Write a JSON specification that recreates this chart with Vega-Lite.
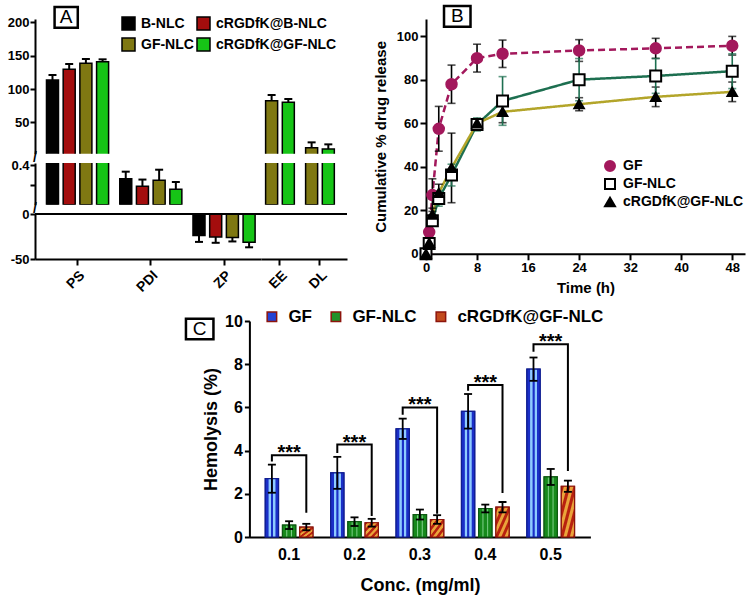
{
  "$schema": "https://vega.github.io/schema/vega-lite/v6.json",
  "padding": {"left": 7, "top": 0, "right": 5, "bottom": 5},
  "background": "white",
  "datasets": {
    "a": [
      {"p": "PS", "s": "B-NLC", "v": 113.5, "eb": 121},
      {"p": "PS", "s": "cRGDfK@B-NLC", "v": 129.5, "eb": 137.5},
      {"p": "PS", "s": "GF-NLC", "v": 138.5, "eb": 145},
      {"p": "PS", "s": "cRGDfK@GF-NLC", "v": 141, "eb": 144.5},
      {"p": "PDI", "s": "B-NLC", "v": 0.264, "eb": 0.335},
      {"p": "PDI", "s": "cRGDfK@B-NLC", "v": 0.187, "eb": 0.255},
      {"p": "PDI", "s": "GF-NLC", "v": 0.248, "eb": 0.355},
      {"p": "PDI", "s": "cRGDfK@GF-NLC", "v": 0.156, "eb": 0.23},
      {"p": "ZP", "s": "B-NLC", "v": -24, "eb": -31},
      {"p": "ZP", "s": "cRGDfK@B-NLC", "v": -25.5, "eb": -32},
      {"p": "ZP", "s": "GF-NLC", "v": -26, "eb": -30.5},
      {"p": "ZP", "s": "cRGDfK@GF-NLC", "v": -31.5, "eb": -37},
      {"p": "EE", "s": "GF-NLC", "v": 82.5, "eb": 91},
      {"p": "EE", "s": "cRGDfK@GF-NLC", "v": 80, "eb": 85},
      {"p": "DL", "s": "GF-NLC", "v": 12, "eb": 20},
      {"p": "DL", "s": "cRGDfK@GF-NLC", "v": 10, "eb": 17}
    ],
    "b": [
      {"s": "GF", "t": 0, "v": 0, "e": 0},
      {"s": "GF", "t": 0.5, "v": 10, "e": 2},
      {"s": "GF", "t": 1, "v": 27, "e": 7.5},
      {"s": "GF", "t": 2, "v": 57.5, "e": 10.3},
      {"s": "GF", "t": 4, "v": 78, "e": 8.8},
      {"s": "GF", "t": 8, "v": 90, "e": 6.4},
      {"s": "GF", "t": 12, "v": 92, "e": 6.3},
      {"s": "GF", "t": 24, "v": 93.5, "e": 5},
      {"s": "GF", "t": 36, "v": 94.5, "e": 4.6},
      {"s": "GF", "t": 48, "v": 95.7, "e": 4.3},
      {"s": "GF-NLC", "t": 0, "v": 0, "e": 0},
      {"s": "GF-NLC", "t": 0.5, "v": 4.7, "e": 1.5},
      {"s": "GF-NLC", "t": 1, "v": 15.2, "e": 2.5},
      {"s": "GF-NLC", "t": 2, "v": 25.4, "e": 3.5},
      {"s": "GF-NLC", "t": 4, "v": 36.2, "e": 5},
      {"s": "GF-NLC", "t": 8, "v": 59.5, "e": 3},
      {"s": "GF-NLC", "t": 12, "v": 70.3, "e": 11.2},
      {"s": "GF-NLC", "t": 24, "v": 80.1, "e": 9.7},
      {"s": "GF-NLC", "t": 36, "v": 81.8, "e": 8},
      {"s": "GF-NLC", "t": 48, "v": 84, "e": 8},
      {"s": "cRGDfK@GF-NLC", "t": 0, "v": 0, "e": 0},
      {"s": "cRGDfK@GF-NLC", "t": 0.5, "v": 5, "e": 1.5},
      {"s": "cRGDfK@GF-NLC", "t": 1, "v": 18, "e": 3},
      {"s": "cRGDfK@GF-NLC", "t": 2, "v": 28, "e": 4},
      {"s": "cRGDfK@GF-NLC", "t": 4, "v": 39.5, "e": 16},
      {"s": "cRGDfK@GF-NLC", "t": 8, "v": 60, "e": 2},
      {"s": "cRGDfK@GF-NLC", "t": 12, "v": 65.3, "e": 5},
      {"s": "cRGDfK@GF-NLC", "t": 24, "v": 68.8, "e": 3},
      {"s": "cRGDfK@GF-NLC", "t": 36, "v": 72.2, "e": 4.5},
      {"s": "cRGDfK@GF-NLC", "t": 48, "v": 74.5, "e": 4.5}
    ],
    "c": [
      {"c": "0.1", "s": "GF", "v": 2.7, "lo": 2.05, "hi": 3.35},
      {"c": "0.2", "s": "GF", "v": 2.97, "lo": 2.23, "hi": 3.71},
      {"c": "0.3", "s": "GF", "v": 5.01, "lo": 4.54, "hi": 5.48},
      {"c": "0.4", "s": "GF", "v": 5.82, "lo": 5.02, "hi": 6.62},
      {"c": "0.5", "s": "GF", "v": 7.77, "lo": 7.23, "hi": 8.31},
      {"c": "0.1", "s": "GF-NLC", "v": 0.55, "lo": 0.37, "hi": 0.73},
      {"c": "0.2", "s": "GF-NLC", "v": 0.71, "lo": 0.51, "hi": 0.91},
      {"c": "0.3", "s": "GF-NLC", "v": 1.04, "lo": 0.81, "hi": 1.27},
      {"c": "0.4", "s": "GF-NLC", "v": 1.32, "lo": 1.14, "hi": 1.5},
      {"c": "0.5", "s": "GF-NLC", "v": 2.78, "lo": 2.41, "hi": 3.15},
      {"c": "0.1", "s": "cRGDfK@GF-NLC", "v": 0.46, "lo": 0.31, "hi": 0.61},
      {"c": "0.2", "s": "cRGDfK@GF-NLC", "v": 0.66, "lo": 0.48, "hi": 0.84},
      {"c": "0.3", "s": "cRGDfK@GF-NLC", "v": 0.81, "lo": 0.61, "hi": 1.01},
      {"c": "0.4", "s": "cRGDfK@GF-NLC", "v": 1.38, "lo": 1.14, "hi": 1.62},
      {"c": "0.5", "s": "cRGDfK@GF-NLC", "v": 2.35, "lo": 2.09, "hi": 2.61}
    ],
    "br": [
      {"c": "0.1", "s": "GF", "h": 3.5, "o": 1},
      {"c": "0.1", "s": "GF", "h": 3.78, "o": 2},
      {"c": "0.1", "s": "cRGDfK@GF-NLC", "h": 3.78, "o": 3},
      {"c": "0.1", "s": "cRGDfK@GF-NLC", "h": 1.12, "o": 4},
      {"c": "0.2", "s": "GF", "h": 3.89, "o": 1},
      {"c": "0.2", "s": "GF", "h": 4.28, "o": 2},
      {"c": "0.2", "s": "cRGDfK@GF-NLC", "h": 4.28, "o": 3},
      {"c": "0.2", "s": "cRGDfK@GF-NLC", "h": 0.97, "o": 4},
      {"c": "0.3", "s": "GF", "h": 5.66, "o": 1},
      {"c": "0.3", "s": "GF", "h": 6.0, "o": 2},
      {"c": "0.3", "s": "cRGDfK@GF-NLC", "h": 6.0, "o": 3},
      {"c": "0.3", "s": "cRGDfK@GF-NLC", "h": 1.08, "o": 4},
      {"c": "0.4", "s": "GF", "h": 6.77, "o": 1},
      {"c": "0.4", "s": "GF", "h": 7.04, "o": 2},
      {"c": "0.4", "s": "cRGDfK@GF-NLC", "h": 7.04, "o": 3},
      {"c": "0.4", "s": "cRGDfK@GF-NLC", "h": 2.04, "o": 4},
      {"c": "0.5", "s": "GF", "h": 8.58, "o": 1},
      {"c": "0.5", "s": "GF", "h": 8.92, "o": 2},
      {"c": "0.5", "s": "cRGDfK@GF-NLC", "h": 8.92, "o": 3},
      {"c": "0.5", "s": "cRGDfK@GF-NLC", "h": 3.05, "o": 4}
    ],
    "st": [
      {"c": "0.1", "s": "GF-NLC", "h": 3.78},
      {"c": "0.2", "s": "GF-NLC", "h": 4.28},
      {"c": "0.3", "s": "GF-NLC", "h": 6.0},
      {"c": "0.4", "s": "GF-NLC", "h": 7.04},
      {"c": "0.5", "s": "GF-NLC", "h": 8.92}
    ]
  },
  "vconcat": [
    {
      "hconcat": [
        {
          "concat": [
            {
              "width": 226, "height": 134.7,
              "layer": [
                {
                  "data": {"name": "a"}, "transform": [{"filter": "datum.p === 'PS'"}],
                  "mark": {"type": "bar", "clip": true, "stroke": "black", "strokeWidth": 1.5},
                  "encoding": {
                    "x": {"field": "p", "type": "nominal", "scale": {"domain": ["PS", "PDI", "ZP"], "paddingInner": 0.088, "paddingOuter": 0.0866, "align": 0.72}, "axis": null},
                    "xOffset": {"field": "s", "type": "nominal", "scale": {"domain": ["B-NLC", "cRGDfK@B-NLC", "GF-NLC", "cRGDfK@GF-NLC"], "paddingInner": 0.28, "paddingOuter": 0.14}},
                    "y": {"field": "v", "type": "quantitative", "scale": {"domain": [3, 205], "nice": false, "zero": false}, "axis": {"values": [50, 100, 150, 200], "labelOverlap": false, "title": null, "labelFontSize": 13, "tickSize": 5, "labelPadding": 1}},
                    "y2": {"datum": 0},
                    "color": {"field": "s", "type": "nominal", "scale": {"domain": ["B-NLC", "GF-NLC", "cRGDfK@B-NLC", "cRGDfK@GF-NLC"], "range": ["#000000", "#7f7812", "#a30d0d", "#16c416"]},
                      "legend": {"title": null, "orient": "none", "legendX": 86, "legendY": -3, "columns": 2, "symbolType": "square", "symbolSize": 169, "symbolStrokeColor": "black", "symbolStrokeWidth": 1.5, "labelFontSize": 14, "columnPadding": 0, "rowPadding": 2, "labelOffset": 5}}
                  }
                },
                {
                  "data": {"name": "a"}, "transform": [{"filter": "datum.p === 'PS'"}],
                  "mark": {"type": "rule", "strokeWidth": 2, "color": "black"},
                  "encoding": {"x": {"field": "p", "type": "nominal"}, "xOffset": {"field": "s", "type": "nominal"}, "y": {"field": "v", "type": "quantitative"}, "y2": {"field": "eb"}}
                },
                {
                  "data": {"name": "a"}, "transform": [{"filter": "datum.p === 'PS'"}],
                  "mark": {"type": "tick", "orient": "horizontal", "thickness": 2, "size": 8, "color": "black", "opacity": 1},
                  "encoding": {"x": {"field": "p", "type": "nominal"}, "xOffset": {"field": "s", "type": "nominal"}, "y": {"field": "eb", "type": "quantitative"}}
                },
                {
                  "data": {"values": [{}]},
                  "mark": {"type": "point", "shape": "M-1,-0.9H1V0.9H-1Z", "size": 538, "filled": false, "stroke": "black", "strokeWidth": 2.5, "opacity": 1},
                  "encoding": {"x": {"datum": "PS", "type": "nominal", "bandPosition": 0.33}, "y": {"datum": 207.5, "type": "quantitative"}}
                },
                {
                  "data": {"values": [{}]},
                  "mark": {"type": "text", "text": "A", "fontSize": 19, "color": "black", "baseline": "middle", "align": "center"},
                  "encoding": {"x": {"datum": "PS", "type": "nominal", "bandPosition": 0.33}, "y": {"datum": 207.5, "type": "quantitative"}}
                }
              ]
            },
            {
              "width": 86, "height": 134.7,
              "data": {"name": "a"}, "transform": [{"filter": "datum.p === 'EE' || datum.p === 'DL'"}],
              "layer": [
                {
                  "mark": {"type": "bar", "clip": true, "stroke": "black", "strokeWidth": 1.5},
                  "encoding": {
                    "x": {"field": "p", "type": "nominal", "scale": {"domain": ["EE", "DL"], "paddingInner": 0.165, "paddingOuter": 0.1575, "align": 0.18}, "axis": null},
                    "xOffset": {"field": "s", "type": "nominal", "scale": {"domain": ["GF-NLC", "cRGDfK@GF-NLC"], "paddingInner": 0.28, "paddingOuter": 0.14}},
                    "y": {"field": "v", "type": "quantitative", "scale": {"domain": [3, 205], "nice": false, "zero": false}, "axis": null},
                    "y2": {"datum": 0},
                    "color": {"field": "s", "type": "nominal", "scale": {"domain": ["B-NLC", "GF-NLC", "cRGDfK@B-NLC", "cRGDfK@GF-NLC"], "range": ["#000000", "#7f7812", "#a30d0d", "#16c416"]}, "legend": null}
                  }
                },
                {
                  "mark": {"type": "rule", "strokeWidth": 2, "color": "black"},
                  "encoding": {"x": {"field": "p", "type": "nominal"}, "xOffset": {"field": "s", "type": "nominal"}, "y": {"field": "v", "type": "quantitative"}, "y2": {"field": "eb"}}
                },
                {
                  "mark": {"type": "tick", "orient": "horizontal", "thickness": 2, "size": 8, "color": "black", "opacity": 1},
                  "encoding": {"x": {"field": "p", "type": "nominal"}, "xOffset": {"field": "s", "type": "nominal"}, "y": {"field": "eb", "type": "quantitative"}}
                }
              ]
            },
            {
              "width": 226, "height": 41.7,
              "layer": [
                {
                  "data": {"name": "a"}, "transform": [{"filter": "datum.p === 'PS' || datum.p === 'PDI'"}],
                  "mark": {"type": "bar", "clip": true, "stroke": "black", "strokeWidth": 1.5},
                  "encoding": {
                    "x": {"field": "p", "type": "nominal", "scale": {"domain": ["PS", "PDI", "ZP"], "paddingInner": 0.088, "paddingOuter": 0.0866, "align": 0.72}, "axis": null},
                    "xOffset": {"field": "s", "type": "nominal", "scale": {"domain": ["B-NLC", "cRGDfK@B-NLC", "GF-NLC", "cRGDfK@GF-NLC"], "paddingInner": 0.28, "paddingOuter": 0.14}},
                    "y": {"field": "v", "type": "quantitative", "scale": {"domain": [0, 0.423], "nice": false, "zero": false}, "axis": {"values": [0.2, 0.4], "labelExpr": "datum.value > 0.3 ? datum.label : ''", "labelOverlap": false, "title": null, "labelFontSize": 13, "tickSize": 5, "labelPadding": 1}},
                    "y2": {"datum": 0},
                    "color": {"field": "s", "type": "nominal", "scale": {"domain": ["B-NLC", "GF-NLC", "cRGDfK@B-NLC", "cRGDfK@GF-NLC"], "range": ["#000000", "#7f7812", "#a30d0d", "#16c416"]}, "legend": null}
                  }
                },
                {
                  "data": {"name": "a"}, "transform": [{"filter": "datum.p === 'PDI'"}],
                  "mark": {"type": "rule", "strokeWidth": 2, "color": "black"},
                  "encoding": {"x": {"field": "p", "type": "nominal"}, "xOffset": {"field": "s", "type": "nominal"}, "y": {"field": "v", "type": "quantitative"}, "y2": {"field": "eb"}}
                },
                {
                  "data": {"name": "a"}, "transform": [{"filter": "datum.p === 'PDI'"}],
                  "mark": {"type": "tick", "orient": "horizontal", "thickness": 2, "size": 8, "color": "black", "opacity": 1},
                  "encoding": {"x": {"field": "p", "type": "nominal"}, "xOffset": {"field": "s", "type": "nominal"}, "y": {"field": "eb", "type": "quantitative"}}
                },
                {
                  "data": {"values": [{}]},
                  "mark": {"type": "text", "text": "/", "fontSize": 14, "fontWeight": "bold", "color": "black", "baseline": "middle", "align": "center"},
                  "encoding": {"x": {"datum": "PS", "type": "nominal", "bandPosition": -0.136}, "y": {"datum": 0.469, "type": "quantitative"}}
                },
                {
                  "data": {"values": [{}]},
                  "mark": {"type": "text", "text": "/", "fontSize": 14, "fontWeight": "bold", "color": "black", "baseline": "middle", "align": "center"},
                  "encoding": {"x": {"datum": "PS", "type": "nominal", "bandPosition": -0.136}, "y": {"datum": -0.046, "type": "quantitative"}}
                }
              ]
            },
            {
              "width": 86, "height": 41.7,
              "data": {"name": "a"}, "transform": [{"filter": "datum.p === 'EE' || datum.p === 'DL'"}],
              "mark": {"type": "bar", "clip": true, "stroke": "black", "strokeWidth": 1.5},
              "encoding": {
                "x": {"field": "p", "type": "nominal", "scale": {"domain": ["EE", "DL"], "paddingInner": 0.165, "paddingOuter": 0.1575, "align": 0.18}, "axis": null},
                "xOffset": {"field": "s", "type": "nominal", "scale": {"domain": ["GF-NLC", "cRGDfK@GF-NLC"], "paddingInner": 0.28, "paddingOuter": 0.14}},
                "y": {"field": "v", "type": "quantitative", "scale": {"domain": [0, 0.423], "nice": false, "zero": false}, "axis": null},
                "y2": {"datum": 0},
                "color": {"field": "s", "type": "nominal", "scale": {"domain": ["B-NLC", "GF-NLC", "cRGDfK@B-NLC", "cRGDfK@GF-NLC"], "range": ["#000000", "#7f7812", "#a30d0d", "#16c416"]}, "legend": null}
              }
            },
            {
              "width": 226, "height": 45,
              "layer": [
                {
                  "data": {"name": "a"}, "transform": [{"filter": "datum.p === 'ZP'"}],
                  "mark": {"type": "bar", "clip": true, "stroke": "black", "strokeWidth": 1.5},
                  "encoding": {
                    "x": {"field": "p", "type": "nominal", "scale": {"domain": ["PS", "PDI", "ZP"], "paddingInner": 0.088, "paddingOuter": 0.0866, "align": 0.72}, "axis": {"title": null, "labelAngle": -45, "labelFontSize": 14, "tickSize": 6, "labelPadding": 3}},
                    "xOffset": {"field": "s", "type": "nominal", "scale": {"domain": ["B-NLC", "cRGDfK@B-NLC", "GF-NLC", "cRGDfK@GF-NLC"], "paddingInner": 0.28, "paddingOuter": 0.14}},
                    "y": {"field": "v", "type": "quantitative", "scale": {"domain": [-50, 0], "nice": false}, "axis": {"values": [-50, -25, 0], "labelExpr": "datum.value == -25 ? '' : (datum.value == -50 ? '-50' : '0')", "labelOverlap": false, "title": null, "labelFontSize": 13, "tickSize": 5, "labelPadding": 1}},
                    "y2": {"datum": 0},
                    "color": {"field": "s", "type": "nominal", "scale": {"domain": ["B-NLC", "GF-NLC", "cRGDfK@B-NLC", "cRGDfK@GF-NLC"], "range": ["#000000", "#7f7812", "#a30d0d", "#16c416"]}, "legend": null}
                  }
                },
                {
                  "data": {"name": "a"}, "transform": [{"filter": "datum.p === 'ZP'"}],
                  "mark": {"type": "rule", "strokeWidth": 2, "color": "black"},
                  "encoding": {"x": {"field": "p", "type": "nominal"}, "xOffset": {"field": "s", "type": "nominal"}, "y": {"field": "v", "type": "quantitative"}, "y2": {"field": "eb"}}
                },
                {
                  "data": {"name": "a"}, "transform": [{"filter": "datum.p === 'ZP'"}],
                  "mark": {"type": "tick", "orient": "horizontal", "thickness": 2, "size": 8, "color": "black", "opacity": 1},
                  "encoding": {"x": {"field": "p", "type": "nominal"}, "xOffset": {"field": "s", "type": "nominal"}, "y": {"field": "eb", "type": "quantitative"}}
                },
                {
                  "data": {"values": [{}]},
                  "mark": {"type": "rule", "strokeWidth": 2, "color": "black"},
                  "encoding": {"y": {"datum": 0, "type": "quantitative"}}
                }
              ]
            },
            {
              "width": 86, "height": 45,
              "layer": [
                {
                  "data": {"name": "a"}, "transform": [{"filter": "datum.p === 'EE' || datum.p === 'DL'"}],
                  "mark": {"type": "bar", "clip": true, "stroke": "black", "strokeWidth": 1.5},
                  "encoding": {
                    "x": {"field": "p", "type": "nominal", "scale": {"domain": ["EE", "DL"], "paddingInner": 0.165, "paddingOuter": 0.1575, "align": 0.18}, "axis": {"title": null, "labelAngle": -45, "labelFontSize": 14, "tickSize": 6, "labelPadding": 3}},
                    "xOffset": {"field": "s", "type": "nominal", "scale": {"domain": ["GF-NLC", "cRGDfK@GF-NLC"], "paddingInner": 0.28, "paddingOuter": 0.14}},
                    "y": {"field": "v", "type": "quantitative", "scale": {"domain": [-50, 0], "nice": false}, "axis": null},
                    "y2": {"datum": 0},
                    "color": {"field": "s", "type": "nominal", "scale": {"domain": ["B-NLC", "GF-NLC", "cRGDfK@B-NLC", "cRGDfK@GF-NLC"], "range": ["#000000", "#7f7812", "#a30d0d", "#16c416"]}, "legend": null}
                  }
                },
                {
                  "data": {"values": [{}]},
                  "mark": {"type": "rule", "strokeWidth": 2, "color": "black"},
                  "encoding": {"y": {"datum": 0, "type": "quantitative"}}
                }
              ]
            }
          ],
          "columns": 2,
          "spacing": {"row": 9, "column": 0},
          "bounds": "flush",
          "resolve": {"scale": {"x": "independent", "y": "independent", "color": "independent", "xOffset": "independent"}, "legend": {"color": "independent"}}
        },
        {
          "width": 319, "height": 234.8,
          "layer": [
            {
              "data": {"name": "b"},
              "mark": {"type": "line", "strokeWidth": 2.5},
              "encoding": {
                "x": {"field": "t", "type": "quantitative", "scale": {"domain": [0, 50], "nice": false, "zero": false}, "title": "Time (h)",
                  "axis": {"values": [0, 4, 8, 12, 16, 20, 24, 28, 32, 36, 40, 44, 48], "labelExpr": "datum.value % 8 == 0 ? datum.label : ''", "labelOverlap": false, "tickSize": {"condition": {"test": "datum.value % 8 == 0", "value": 6}, "value": 4}, "titleFontSize": 15, "labelFontSize": 13, "titlePadding": 6, "labelPadding": 2}},
                "y": {"field": "v", "type": "quantitative", "scale": {"domain": [0, 108], "nice": false}, "title": "Cumulative % drug release",
                  "axis": {"values": [0, 10, 20, 30, 40, 50, 60, 70, 80, 90, 100], "labelExpr": "datum.value % 20 == 0 ? datum.label : ''", "labelOverlap": false, "tickSize": {"condition": {"test": "datum.value % 20 == 0", "value": 6}, "value": 4}, "titleFontSize": 15, "labelFontSize": 13, "titlePadding": 8, "labelPadding": 2}},
                "detail": {"field": "s", "type": "nominal"},
                "stroke": {"condition": [{"test": "datum.s === 'GF'", "value": "#a3185c"}, {"test": "datum.s === 'GF-NLC'", "value": "#1d6f50"}], "value": "#b3a52a"},
                "strokeDash": {"condition": {"test": "datum.s === 'GF'", "value": [7, 4]}, "value": [1, 0]}
              }
            },
            {
              "data": {"name": "b"}, "transform": [{"filter": "datum.s !== 'GF-NLC' && datum.e > 0"}],
              "mark": {"type": "errorbar", "ticks": {"size": 8, "thickness": 1.6}, "thickness": 1.6, "color": "black"},
              "encoding": {"x": {"field": "t", "type": "quantitative", "title": "Time (h)"}, "y": {"field": "v", "type": "quantitative", "title": "Cumulative % drug release"}, "yError": {"field": "e"}}
            },
            {
              "data": {"name": "b"}, "transform": [{"filter": "datum.s === 'GF-NLC' && datum.e > 0"}],
              "mark": {"type": "errorbar", "ticks": {"size": 8, "thickness": 1.6}, "thickness": 1.6, "color": "#1d6f50"},
              "encoding": {"x": {"field": "t", "type": "quantitative", "title": "Time (h)"}, "y": {"field": "v", "type": "quantitative", "title": "Cumulative % drug release"}, "yError": {"field": "e"}}
            },
            {
              "data": {"name": "b"},
              "mark": {"type": "point", "filled": true, "opacity": 1, "strokeWidth": 2},
              "encoding": {
                "x": {"field": "t", "type": "quantitative", "title": "Time (h)"},
                "y": {"field": "v", "type": "quantitative", "title": "Cumulative % drug release"},
                "shape": {"field": "s", "type": "nominal", "scale": {"domain": ["GF", "GF-NLC", "cRGDfK@GF-NLC"], "range": ["circle", "square", "triangle-up"]},
                  "legend": {"title": null, "orient": "none", "legendX": 177, "legendY": 140, "labelFontSize": 14, "symbolSize": 100, "symbolStrokeWidth": 2, "rowPadding": 0, "labelOffset": 6}},
                "fill": {"field": "s", "type": "nominal", "scale": {"domain": ["GF", "GF-NLC", "cRGDfK@GF-NLC"], "range": ["#a3185c", "#ffffff", "#000000"]},
                  "legend": {"title": null, "orient": "none", "legendX": 177, "legendY": 140, "labelFontSize": 14, "symbolSize": 100, "symbolStrokeWidth": 2, "rowPadding": 0, "labelOffset": 6}},
                "stroke": {"field": "s", "type": "nominal", "scale": {"domain": ["GF", "GF-NLC", "cRGDfK@GF-NLC"], "range": ["#a3185c", "#000000", "#000000"]},
                  "legend": {"title": null, "orient": "none", "legendX": 177, "legendY": 140, "labelFontSize": 14, "symbolSize": 100, "symbolStrokeWidth": 2, "rowPadding": 0, "labelOffset": 6}},
                "size": {"condition": [{"test": "datum.s === 'GF'", "value": 110}, {"test": "datum.s === 'GF-NLC'", "value": 120}], "value": 90}
              }
            },
            {
              "data": {"values": [{}]},
              "mark": {"type": "point", "shape": "M-1,-0.785H1V0.785H-1Z", "size": 702, "filled": false, "stroke": "black", "strokeWidth": 2.5, "opacity": 1},
              "encoding": {"x": {"datum": 4.9, "type": "quantitative"}, "y": {"datum": 109.2, "type": "quantitative"}}
            },
            {
              "data": {"values": [{}]},
              "mark": {"type": "text", "text": "B", "fontSize": 19, "color": "black", "baseline": "middle", "align": "center"},
              "encoding": {"x": {"datum": 4.9, "type": "quantitative"}, "y": {"datum": 109.2, "type": "quantitative"}}
            }
          ]
        }
      ],
      "spacing": 25,
      "resolve": {"scale": {"x": "independent", "y": "independent", "color": "independent", "fill": "independent", "stroke": "independent", "shape": "independent", "xOffset": "independent"}, "legend": {"color": "independent", "fill": "independent", "stroke": "independent", "shape": "independent"}}
    },
    {
      "hconcat": [
        {"width": 115, "height": 10, "data": {"values": []}, "mark": "point", "encoding": {}},
        {
          "width": 30, "height": 16,
          "data": {"values": [{}]},
          "layer": [
            {"mark": {"type": "point", "shape": "M-1,-0.745H1V0.745H-1Z", "size": 756, "filled": false, "stroke": "black", "strokeWidth": 2.5, "opacity": 1}, "encoding": {}},
            {"mark": {"type": "text", "text": "C", "fontSize": 19, "color": "black", "baseline": "middle", "align": "center"}, "encoding": {}}
          ]
        },
        {
          "width": 341, "height": 216,
          "layer": [
            {
              "data": {"name": "c"},
              "mark": {"type": "bar", "strokeWidth": 1.2},
              "encoding": {
                "x": {"field": "c", "type": "nominal", "scale": {"domain": ["0.1", "0.2", "0.3", "0.4", "0.5"], "paddingInner": 0.25, "paddingOuter": 0.232},
                  "axis": {"title": "Conc. (mg/ml)", "titleFontSize": 18, "labelFontSize": 16, "labelAngle": 0, "ticks": false, "labelPadding": 9, "titlePadding": 14}},
                "xOffset": {"field": "s", "type": "nominal", "scale": {"domain": ["GF", "GF-NLC", "cRGDfK@GF-NLC"], "paddingInner": 0.23, "paddingOuter": 0.04}},
                "y": {"field": "v", "type": "quantitative", "scale": {"domain": [0, 10], "nice": false},
                  "axis": {"values": [0, 2, 4, 6, 8, 10], "labelOverlap": false, "title": "Hemolysis (%)", "titleFontSize": 18, "labelFontSize": 16, "tickSize": 5, "labelPadding": 2, "titlePadding": 4}},
                "color": {"field": "s", "type": "nominal", "scale": {"domain": ["GF", "GF-NLC", "cRGDfK@GF-NLC"], "range": ["#2442d4", "#22922a", "#c24a1c"]},
                  "legend": {"title": null, "orient": "none", "legendX": 14, "legendY": -13, "direction": "horizontal", "symbolType": "square", "symbolSize": 90, "labelFontSize": 17, "columnPadding": 15, "labelOffset": 8}},
                "stroke": {"condition": [{"test": "datum.s === 'GF'", "value": "#101e90"}, {"test": "datum.s === 'GF-NLC'", "value": "#0e5a12"}], "value": "#8c140c"}
              }
            },
            {
              "data": {"name": "c"}, "transform": [{"filter": "datum.s === 'GF'"}],
              "mark": {"type": "bar", "stroke": "#101e90", "strokeWidth": 1.2,
                "fill": {"gradient": "linear", "x1": 0, "y1": 0, "x2": 1, "y2": 0, "stops": [
                  {"offset": 0, "color": "#1a2fc8"}, {"offset": 0.22, "color": "#1a2fc8"}, {"offset": 0.28, "color": "#8ecbff"}, {"offset": 0.4, "color": "#8ecbff"},
                  {"offset": 0.46, "color": "#1a2fc8"}, {"offset": 0.56, "color": "#1a2fc8"}, {"offset": 0.62, "color": "#8ecbff"}, {"offset": 0.74, "color": "#8ecbff"},
                  {"offset": 0.8, "color": "#1a2fc8"}, {"offset": 1, "color": "#1a2fc8"}]}},
              "encoding": {"x": {"field": "c", "type": "nominal"}, "xOffset": {"field": "s", "type": "nominal"}, "y": {"field": "v", "type": "quantitative"}}
            },
            {
              "data": {"name": "c"}, "transform": [{"filter": "datum.s === 'GF-NLC'"}],
              "mark": {"type": "bar", "stroke": "#0e5a12", "strokeWidth": 1.2,
                "fill": {"gradient": "linear", "x1": 0, "y1": 0, "x2": 1, "y2": 0, "stops": [
                  {"offset": 0, "color": "#178a1c"}, {"offset": 0.25, "color": "#178a1c"}, {"offset": 0.32, "color": "#7fd08a"}, {"offset": 0.4, "color": "#178a1c"},
                  {"offset": 0.6, "color": "#178a1c"}, {"offset": 0.68, "color": "#7fd08a"}, {"offset": 0.75, "color": "#178a1c"}, {"offset": 1, "color": "#178a1c"}]}},
              "encoding": {"x": {"field": "c", "type": "nominal"}, "xOffset": {"field": "s", "type": "nominal"}, "y": {"field": "v", "type": "quantitative"}}
            },
            {
              "data": {"name": "c"}, "transform": [{"filter": "datum.s === 'cRGDfK@GF-NLC'"}],
              "mark": {"type": "bar", "stroke": "#8c140c", "strokeWidth": 1.2,
                "fill": {"gradient": "linear", "x1": 0, "y1": 0, "x2": 1, "y2": 1, "stops": [
                  {"offset": 0, "color": "#b8220f"}, {"offset": 0.08, "color": "#b8220f"}, {"offset": 0.12, "color": "#eaa43a"}, {"offset": 0.2, "color": "#eaa43a"},
                  {"offset": 0.24, "color": "#b8220f"}, {"offset": 0.32, "color": "#b8220f"}, {"offset": 0.36, "color": "#eaa43a"}, {"offset": 0.44, "color": "#eaa43a"},
                  {"offset": 0.48, "color": "#b8220f"}, {"offset": 0.56, "color": "#b8220f"}, {"offset": 0.6, "color": "#eaa43a"}, {"offset": 0.68, "color": "#eaa43a"},
                  {"offset": 0.72, "color": "#b8220f"}, {"offset": 0.8, "color": "#b8220f"}, {"offset": 0.84, "color": "#eaa43a"}, {"offset": 0.92, "color": "#eaa43a"},
                  {"offset": 0.96, "color": "#b8220f"}, {"offset": 1, "color": "#b8220f"}]}},
              "encoding": {"x": {"field": "c", "type": "nominal"}, "xOffset": {"field": "s", "type": "nominal"}, "y": {"field": "v", "type": "quantitative"}}
            },
            {
              "data": {"name": "c"},
              "mark": {"type": "rule", "strokeWidth": 1.8, "color": "black"},
              "encoding": {"x": {"field": "c", "type": "nominal"}, "xOffset": {"field": "s", "type": "nominal"}, "y": {"field": "lo", "type": "quantitative"}, "y2": {"field": "hi"}}
            },
            {
              "data": {"name": "c"},
              "mark": {"type": "tick", "orient": "horizontal", "thickness": 1.8, "size": 8, "color": "black", "opacity": 1},
              "encoding": {"x": {"field": "c", "type": "nominal"}, "xOffset": {"field": "s", "type": "nominal"}, "y": {"field": "lo", "type": "quantitative"}}
            },
            {
              "data": {"name": "c"},
              "mark": {"type": "tick", "orient": "horizontal", "thickness": 1.8, "size": 8, "color": "black", "opacity": 1},
              "encoding": {"x": {"field": "c", "type": "nominal"}, "xOffset": {"field": "s", "type": "nominal"}, "y": {"field": "hi", "type": "quantitative"}}
            },
            {
              "data": {"name": "br"},
              "mark": {"type": "line", "color": "black", "strokeWidth": 2},
              "encoding": {"x": {"field": "c", "type": "nominal"}, "xOffset": {"field": "s", "type": "nominal"}, "y": {"field": "h", "type": "quantitative"}, "detail": {"field": "c"}, "order": {"field": "o"}}
            },
            {
              "data": {"name": "st"},
              "mark": {"type": "text", "text": "***", "fontSize": 20, "fontWeight": "bold", "color": "black", "baseline": "alphabetic", "dy": 4},
              "encoding": {"x": {"field": "c", "type": "nominal"}, "xOffset": {"field": "s", "type": "nominal"}, "y": {"field": "h", "type": "quantitative"}}
            }
          ]
        }
      ],
      "spacing": 34.7,
      "bounds": "flush",
      "resolve": {"scale": {"x": "independent", "y": "independent", "color": "independent", "xOffset": "independent"}, "legend": {"color": "independent"}}
    }
  ],
  "spacing": 12,
  "resolve": {"scale": {"x": "independent", "y": "independent", "color": "independent", "fill": "independent", "stroke": "independent", "shape": "independent", "xOffset": "independent"}, "legend": {"color": "independent", "fill": "independent", "stroke": "independent", "shape": "independent"}},
  "config": {
    "font": "Liberation Sans",
    "view": {"stroke": null},
    "axis": {"labelFont": "Liberation Sans", "labelFontWeight": "bold", "labelColor": "#000000", "titleFont": "Liberation Sans", "titleFontWeight": "bold", "titleColor": "#000000", "domainColor": "#000000", "domainWidth": 2, "tickColor": "#000000", "tickWidth": 2, "grid": false, "labelFlush": false, "labelOverlap": false},
    "legend": {"labelFont": "Liberation Sans", "labelFontWeight": "bold", "labelColor": "#000000", "labelLimit": 0},
    "text": {"font": "Liberation Sans"}
  }
}
